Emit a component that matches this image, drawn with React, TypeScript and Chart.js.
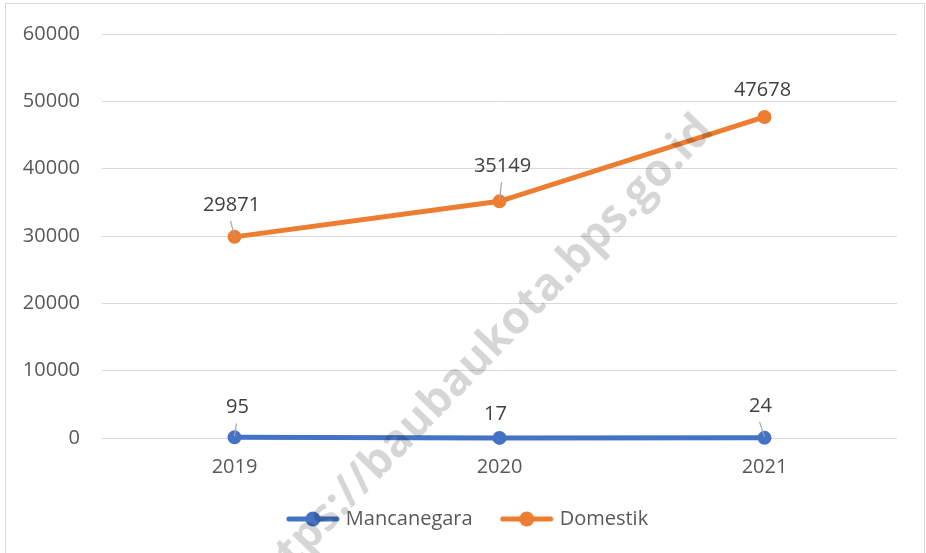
import React, { useEffect, useRef } from "react";
import { Chart, registerables } from "chart.js";

Chart.register(...registerables);

const categories = ["2019", "2020", "2021"];
const mancanegara = [95, 17, 24];
const domestik = [29871, 35149, 47678];
const yTicks = [0, 10000, 20000, 30000, 40000, 50000, 60000];
const seriesNames = ["Mancanegara", "Domestik"];
const watermarkText = "https://baubaukota.bps.go.id";

const BLUE = "#4472C4";
const ORANGE = "#ED7D31";
const FONT = "'Open Sans', 'Noto Sans', sans-serif";

// label placement relative to each point (styling only)
const labelStyle = [
  [
    { dx: 3, dy: -30, leader: true },
    { dx: -4, dy: -24, leader: false },
    { dx: -4, dy: -32, leader: true },
  ],
  [
    { dx: -3, dy: -32, leader: true },
    { dx: 3, dy: -35, leader: true },
    { dx: -2, dy: -27, leader: false },
  ],
];

function legendIcon(color: string) {
  const c = document.createElement("canvas");
  c.width = 54;
  c.height = 16;
  const ctx = c.getContext("2d")!;
  ctx.strokeStyle = color;
  ctx.lineWidth = 5;
  ctx.lineCap = "round";
  ctx.beginPath();
  ctx.moveTo(3, 8);
  ctx.lineTo(51, 8);
  ctx.stroke();
  ctx.fillStyle = color;
  ctx.beginPath();
  ctx.arc(27, 8, 7.5, 0, Math.PI * 2);
  ctx.fill();
  return c;
}

const borderPlugin = {
  id: "frameBorder",
  beforeDraw(chart: any) {
    const ctx = chart.ctx;
    ctx.save();
    ctx.fillStyle = "#FFFFFF";
    ctx.fillRect(0, 0, chart.width, chart.height);
    ctx.strokeStyle = "#D9D9D9";
    ctx.lineWidth = 1;
    ctx.strokeRect(5.5, 3.5, chart.width - 7, chart.height + 10);
    ctx.restore();
  },
};

const labelPlugin = {
  id: "valueLabels",
  afterDatasetsDraw(chart: any) {
    const ctx = chart.ctx;
    ctx.save();
    ctx.font = `20px ${FONT}`;
    ctx.fillStyle = "#404040";
    ctx.textAlign = "center";
    ctx.textBaseline = "middle";
    chart.data.datasets.forEach((ds: any, di: number) => {
      const meta = chart.getDatasetMeta(di);
      meta.data.forEach((pt: any, i: number) => {
        const st = labelStyle[di][i];
        const x = pt.x + st.dx;
        const y = pt.y + st.dy;
        ctx.fillText(String(ds.data[i]), x, y);
        if (st.leader) {
          ctx.strokeStyle = "#A6A6A6";
          ctx.lineWidth = 1.2;
          ctx.beginPath();
          ctx.moveTo(x - 1, y + 16);
          ctx.lineTo(pt.x, pt.y - 1);
          ctx.stroke();
        }
      });
    });
    ctx.restore();
  },
};

const watermarkPlugin = {
  id: "watermark",
  afterDraw(chart: any) {
    const ctx = chart.ctx;
    ctx.save();
    ctx.translate(478, 359);
    ctx.rotate((-46 * Math.PI) / 180);
    ctx.font = `bold 45px ${FONT}`;
    ctx.fillStyle = "rgba(0,0,0,0.16)";
    ctx.textAlign = "center";
    ctx.textBaseline = "middle";
    ctx.fillText(watermarkText, 0, 0);
    ctx.restore();
  },
};

export default function App() {
  const ref = useRef<HTMLCanvasElement>(null);

  useEffect(() => {
    if (!ref.current) return;
    const icons = [legendIcon(BLUE), legendIcon(ORANGE)];
    const chart = new Chart(ref.current, {
      type: "line",
      data: {
        labels: categories,
        datasets: [
          {
            label: seriesNames[0],
            data: mancanegara,
            borderColor: BLUE,
            backgroundColor: BLUE,
            borderWidth: 5,
            pointRadius: 6,
            pointBorderWidth: 2,
            pointBackgroundColor: BLUE,
            pointBorderColor: BLUE,
            tension: 0,
            clip: false,
          },
          {
            label: seriesNames[1],
            data: domestik,
            borderColor: ORANGE,
            backgroundColor: ORANGE,
            borderWidth: 5,
            pointRadius: 6,
            pointBorderWidth: 2,
            pointBackgroundColor: ORANGE,
            pointBorderColor: ORANGE,
            tension: 0,
            clip: false,
          },
        ],
      },
      options: {
        animation: false,
        responsive: false,
        layout: { padding: { left: 12, right: 0, top: 30, bottom: 14 } },
        plugins: {
          legend: {
            position: "bottom",
            labels: {
              usePointStyle: true,
              pointStyleWidth: 46,
              padding: 31,
              color: "#595959",
              font: { family: FONT, size: 20 },
              generateLabels: (c: any) => {
                const items = (Chart.defaults as any).plugins.legend.labels.generateLabels(c);
                items.forEach((it: any, i: number) => {
                  it.pointStyle = icons[i];
                });
                return items;
              },
            },
          },
          tooltip: { enabled: false },
        },
        scales: {
          x: {
            offset: true,
            grid: { display: false, drawTicks: false },
            border: { display: false },
            ticks: { color: "#595959", font: { family: FONT, size: 20 }, padding: 17 },
            afterFit: (s: any) => {
              s.height = 40;
            },
          },
          y: {
            min: 0,
            max: 60000,
            afterBuildTicks: (s: any) => {
              s.ticks = yTicks.map((v) => ({ value: v }));
            },
            grid: { color: "#D9D9D9", lineWidth: 1, drawTicks: false },
            border: { display: false },
            ticks: {
              color: "#595959",
              font: { family: FONT, size: 20 },
              padding: 22,
              callback: (v: any) => String(v),
            },
            afterFit: (s: any) => {
              s.width = 90;
            },
          },
          yRightSpace: {
            position: "right",
            display: true,
            grid: { display: false, drawTicks: false },
            border: { display: false },
            ticks: { display: false },
            afterFit: (s: any) => {
              s.width = 29;
            },
          },
        },
      },
      plugins: [borderPlugin, labelPlugin, watermarkPlugin],
    });
    return () => chart.destroy();
  }, []);

  return (
    <div style={{ position: "absolute", left: 0, top: 0, width: 926, height: 553 }}>
      <canvas ref={ref} width={926} height={553} style={{ display: "block" }} />
    </div>
  );
}
